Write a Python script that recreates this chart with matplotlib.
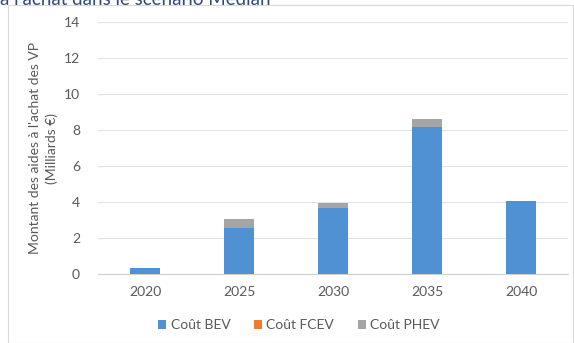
import matplotlib.pyplot as plt
from matplotlib.patches import Rectangle
import numpy as np

# Data
years = ["2020", "2025", "2030", "2035", "2040"]
bev = [0.35, 2.57, 3.65, 8.18, 4.06]
fcev = [0.0, 0.0, 0.0, 0.0, 0.0]
phev = [0.0, 0.50, 0.31, 0.41, 0.0]

plt.rcParams["font.family"] = ["Lato", "DejaVu Sans"]
text_color = "#595959"

fig = plt.figure(figsize=(5.74, 3.43), dpi=100)
ax = fig.add_axes([98 / 574, 1 - 274 / 343, 470 / 574, 252 / 343])

x = np.arange(len(years))
w = 0.31
bev_b = ax.bar(x, bev, w, color="#4F91D3", label="Coût BEV", zorder=3)
fcev_b = ax.bar(x, fcev, w, bottom=bev, color="#ED7D31", label="Coût FCEV", zorder=3)
bottom2 = np.array(bev) + np.array(fcev)
phev_b = ax.bar(x, phev, w, bottom=bottom2, color="#A5A5A5", label="Coût PHEV", zorder=3)

ax.set_xlim(-0.5, len(years) - 0.5)
ax.set_ylim(0, 14)
ax.set_yticks(range(0, 15, 2))
ax.set_xticks(x)
ax.set_xticklabels(years)
ax.grid(axis="y", color="#E3E3E3", linewidth=0.8, zorder=0)
for s in ["top", "right", "left"]:
    ax.spines[s].set_visible(False)
ax.spines["bottom"].set_color("#D0D0D0")
ax.tick_params(length=0, colors=text_color, labelsize=10)
ax.tick_params(axis="y", pad=13)
ax.tick_params(axis="x", pad=9)

ax.set_ylabel("Montant des aides à l'achat des VP\n(Milliards €)",
              color=text_color, fontsize=10, labelpad=4, linespacing=1.45)

fig.legend(handles=[bev_b, fcev_b, phev_b], loc="center", bbox_to_anchor=(299 / 574, 1 - 325 / 343),
           ncol=3, frameon=False, fontsize=10, labelcolor=text_color,
           handlelength=0.6, handleheight=0.6, handletextpad=0.3, columnspacing=1.7)

# outer chart frame
fig.patches.append(Rectangle((8 / 574, 0), 565 / 574, 1 - 5 / 343, transform=fig.transFigure,
                             fill=False, edgecolor="#D9D9D9", linewidth=0.8))

# caption cut off at the top edge, as in the source
fig.text(0.0, 1 - 5 / 343, "à l'achat dans le scénario Médian", color="#2E4A7D",
         fontsize=13.5, va="baseline", ha="left")

fig.savefig("out.png", dpi=100)
